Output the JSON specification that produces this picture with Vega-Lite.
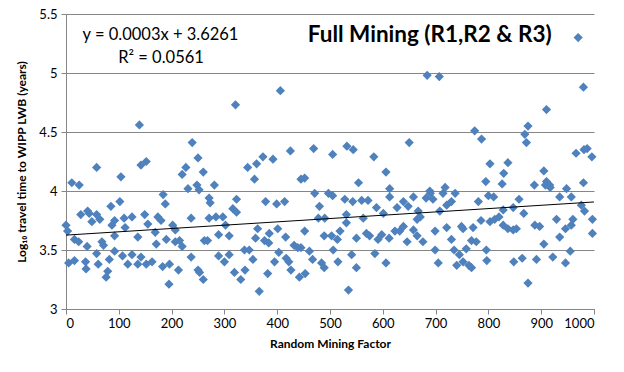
{
  "$schema": "https://vega.github.io/schema/vega-lite/v6.json",
  "autosize": "none",
  "width": 528,
  "height": 295,
  "padding": {"left": 66, "top": 14, "right": 30, "bottom": 63},
  "background": "white",
  "config": {
    "view": {"stroke": null},
    "font": "Lato",
    "axis": {"labelFont": "Lato", "titleFont": "Lato", "labelColor": "#000000", "titleColor": "#000000", "domainColor": "#868686", "tickColor": "#868686", "gridColor": "#868686", "labelFontSize": 13, "titleFontSize": 12}
  },
  "datasets": {
    "pts": [
      {"x":0,"y":3.71},{"x":3,"y":3.66},{"x":5,"y":3.39},{"x":11,"y":4.07},{"x":16,"y":3.59},{"x":16,"y":3.41},{"x":25,"y":4.05},{"x":24,"y":3.57},{"x":28,"y":3.80},{"x":37,"y":3.40},
      {"x":38,"y":3.34},{"x":40,"y":3.53},{"x":41,"y":3.83},{"x":44,"y":3.81},{"x":49,"y":3.74},{"x":58,"y":4.20},{"x":58,"y":3.80},{"x":58,"y":3.47},{"x":61,"y":3.38},{"x":64,"y":3.76},
      {"x":68,"y":3.57},{"x":71,"y":3.54},{"x":76,"y":3.27},{"x":79,"y":3.32},{"x":82,"y":3.42},{"x":85,"y":3.87},{"x":87,"y":3.71},{"x":92,"y":3.62},{"x":92,"y":3.49},{"x":92,"y":3.75},
      {"x":102,"y":3.91},{"x":104,"y":4.12},{"x":107,"y":3.45},{"x":110,"y":3.77},{"x":112,"y":3.69},{"x":117,"y":3.38},{"x":125,"y":3.78},{"x":125,"y":3.46},{"x":136,"y":3.38},{"x":136,"y":3.61},
      {"x":139,"y":4.56},{"x":142,"y":4.22},{"x":152,"y":4.25},{"x":142,"y":3.44},{"x":149,"y":3.80},{"x":155,"y":3.72},{"x":152,"y":3.38},{"x":163,"y":3.40},{"x":169,"y":3.65},{"x":171,"y":3.55},
      {"x":174,"y":3.78},{"x":180,"y":3.75},{"x":183,"y":3.36},{"x":184,"y":3.97},{"x":188,"y":3.89},{"x":190,"y":3.59},{"x":196,"y":3.38},{"x":195,"y":3.21},{"x":202,"y":3.71},{"x":207,"y":3.67},
      {"x":207,"y":3.57},{"x":213,"y":3.33},{"x":215,"y":3.58},{"x":220,"y":3.53},{"x":220,"y":4.14},{"x":227,"y":4.20},{"x":231,"y":4.02},{"x":237,"y":3.77},{"x":237,"y":3.44},{"x":239,"y":4.41},
      {"x":248,"y":4.05},{"x":250,"y":4.28},{"x":252,"y":4.01},{"x":250,"y":3.33},{"x":253,"y":3.31},{"x":260,"y":4.16},{"x":260,"y":3.25},{"x":262,"y":3.58},{"x":268,"y":3.58},{"x":271,"y":3.94},
      {"x":273,"y":3.90},{"x":271,"y":3.77},{"x":281,"y":4.05},{"x":284,"y":3.78},{"x":289,"y":3.63},{"x":289,"y":3.45},{"x":297,"y":3.78},{"x":302,"y":3.71},{"x":300,"y":3.40},{"x":309,"y":3.46},
      {"x":309,"y":3.62},{"x":316,"y":3.85},{"x":319,"y":3.31},{"x":321,"y":4.73},{"x":323,"y":3.82},{"x":323,"y":3.93},{"x":331,"y":3.25},{"x":338,"y":3.50},{"x":339,"y":3.33},{"x":344,"y":4.20},
      {"x":347,"y":3.50},{"x":354,"y":3.42},{"x":357,"y":4.10},{"x":359,"y":3.60},{"x":361,"y":4.23},{"x":363,"y":3.68},{"x":366,"y":3.15},{"x":373,"y":4.29},{"x":376,"y":3.58},{"x":378,"y":3.91},
      {"x":382,"y":3.30},{"x":384,"y":3.56},{"x":385,"y":3.64},{"x":392,"y":4.27},{"x":395,"y":3.40},{"x":399,"y":3.89},{"x":401,"y":3.68},{"x":403,"y":3.48},{"x":406,"y":4.85},{"x":414,"y":3.91},
      {"x":416,"y":3.61},{"x":417,"y":3.43},{"x":422,"y":3.40},{"x":425,"y":4.34},{"x":426,"y":3.33},{"x":432,"y":3.54},{"x":439,"y":3.52},{"x":442,"y":3.27},{"x":445,"y":3.52},{"x":445,"y":4.10},
      {"x":452,"y":4.11},{"x":452,"y":3.66},{"x":453,"y":3.30},{"x":461,"y":3.49},{"x":467,"y":3.42},{"x":471,"y":3.98},{"x":469,"y":4.36},
      {"x":970,"y":5.30},{"x":684,"y":4.98},{"x":707,"y":4.97},{"x":980,"y":4.88},{"x":910,"y":4.69},{"x":774,"y":4.51},{"x":787,"y":4.44},{"x":869,"y":4.48},{"x":875,"y":4.55},{"x":872,"y":4.41},
      {"x":505,"y":4.31},{"x":532,"y":4.38},{"x":544,"y":4.35},{"x":583,"y":4.29},{"x":650,"y":4.41},{"x":606,"y":4.16},{"x":554,"y":4.07},{"x":803,"y":4.23},{"x":837,"y":4.24},{"x":829,"y":4.15},
      {"x":795,"y":4.08},{"x":826,"y":4.06},{"x":905,"y":4.17},{"x":910,"y":4.08},{"x":966,"y":4.32},{"x":981,"y":4.35},{"x":987,"y":4.36},{"x":996,"y":4.29},{"x":980,"y":4.07},{"x":887,"y":4.05},
      {"x":916,"y":4.05},{"x":948,"y":4.02},{"x":718,"y":4.03},{"x":689,"y":4.00},{"x":613,"y":4.02},
      {"x":497,"y":3.98},{"x":505,"y":3.96},{"x":528,"y":3.93},{"x":543,"y":3.91},{"x":560,"y":3.92},{"x":572,"y":3.92},{"x":588,"y":3.86},{"x":601,"y":3.81},{"x":613,"y":3.95},{"x":627,"y":3.86},
      {"x":639,"y":3.91},{"x":648,"y":3.87},{"x":658,"y":3.95},{"x":667,"y":3.83},{"x":665,"y":3.76},{"x":682,"y":3.94},{"x":690,"y":3.98},{"x":695,"y":3.93},{"x":708,"y":3.83},{"x":714,"y":3.98},
      {"x":721,"y":3.88},{"x":730,"y":3.91},{"x":737,"y":3.98},{"x":781,"y":3.91},{"x":800,"y":3.96},{"x":810,"y":3.95},{"x":803,"y":3.74},{"x":812,"y":3.76},{"x":820,"y":3.78},{"x":828,"y":3.84},
      {"x":847,"y":3.86},{"x":858,"y":3.93},{"x":867,"y":3.81},{"x":908,"y":4.05},{"x":917,"y":4.03},{"x":929,"y":3.76},{"x":935,"y":3.95},{"x":957,"y":3.95},{"x":982,"y":3.83},{"x":976,"y":3.88},
      {"x":997,"y":3.76},{"x":997,"y":3.64},{"x":531,"y":3.80},{"x":531,"y":3.73},{"x":519,"y":3.66},{"x":514,"y":3.59},{"x":503,"y":3.62},{"x":489,"y":3.62},{"x":478,"y":3.77},{"x":480,"y":3.87},
      {"x":490,"y":3.77},{"x":550,"y":3.60},{"x":563,"y":3.77},{"x":569,"y":3.64},{"x":575,"y":3.62},{"x":591,"y":3.59},{"x":598,"y":3.63},{"x":612,"y":3.60},{"x":623,"y":3.66},{"x":632,"y":3.66},
      {"x":639,"y":3.70},{"x":646,"y":3.57},{"x":658,"y":3.67},{"x":665,"y":3.62},{"x":676,"y":3.57},{"x":671,"y":3.78},{"x":699,"y":3.66},{"x":721,"y":3.69},{"x":730,"y":3.59},{"x":749,"y":3.70},
      {"x":752,"y":3.68},{"x":771,"y":3.69},{"x":768,"y":3.58},{"x":777,"y":3.57},{"x":786,"y":3.75},{"x":828,"y":3.71},{"x":837,"y":3.68},{"x":853,"y":3.68},{"x":847,"y":3.67},{"x":888,"y":3.71},
      {"x":897,"y":3.70},{"x":905,"y":3.55},{"x":935,"y":3.61},{"x":946,"y":3.68},{"x":957,"y":3.71},{"x":960,"y":3.76},{"x":484,"y":3.39},{"x":489,"y":3.35},{"x":506,"y":3.50},{"x":515,"y":3.40},
      {"x":541,"y":3.46},{"x":550,"y":3.35},{"x":535,"y":3.16},{"x":585,"y":3.47},{"x":606,"y":3.39},{"x":699,"y":3.50},{"x":705,"y":3.39},{"x":735,"y":3.50},{"x":745,"y":3.46},{"x":740,"y":3.37},
      {"x":752,"y":3.40},{"x":758,"y":3.51},{"x":763,"y":3.37},{"x":768,"y":3.35},{"x":796,"y":3.50},{"x":797,"y":3.41},{"x":848,"y":3.40},{"x":864,"y":3.43},{"x":875,"y":3.22},{"x":891,"y":3.42},
      {"x":922,"y":3.44},{"x":946,"y":3.39},{"x":955,"y":3.49}
    ],
    "trend": [{"x":0,"y":3.6261},{"x":1000,"y":3.907}]
  },
  "layer": [
    {
      "data": {"name": "pts"},
      "mark": {"type": "point", "shape": "diamond", "filled": true, "size": 85, "color": "#4F81BD", "opacity": 1},
      "encoding": {
        "x": {"field": "x", "type": "quantitative", "scale": {"domain": [0, 1000], "nice": false},
          "axis": {"title": "Random Mining Factor", "titleFontWeight": "bold", "titlePadding": 8, "grid": false,
            "values": [0,50,100,150,200,250,300,350,400,450,500,550,600,650,700,750,800,850,900,950,1000],
            "labelExpr": "datum.value % 100 == 0 ? datum.label : ''", "tickSize": 5, "labelPadding": 3, "format": "d"}},
        "y": {"field": "y", "type": "quantitative", "scale": {"domain": [3, 5.5], "nice": false, "zero": false},
          "axis": {"title": "Log₁₀ travel time to WIPP LWB (years)", "titleFontWeight": "bold", "titlePadding": 10,
            "values": [3, 3.5, 4, 4.5, 5, 5.5], "tickSize": 5, "labelPadding": 4, "format": "~g"}}
      }
    },
    {
      "data": {"name": "trend"},
      "mark": {"type": "line", "color": "#000000", "strokeWidth": 1},
      "encoding": {
        "x": {"field": "x", "type": "quantitative"},
        "y": {"field": "y", "type": "quantitative"}
      }
    },
    {
      "data": {"values": [{"t": "Full Mining (R1,R2 & R3)"}]},
      "mark": {"type": "text", "font": "Lato", "fontWeight": "bold", "fontSize": 22.5, "align": "center", "baseline": "middle", "color": "#000000"},
      "encoding": {"text": {"field": "t"}, "x": {"datum": 689}, "y": {"datum": 5.32}}
    },
    {
      "data": {"values": [{"t": "y = 0.0003x + 3.6261"}]},
      "mark": {"type": "text", "font": "Lato", "fontSize": 16.5, "align": "center", "baseline": "middle", "color": "#000000"},
      "encoding": {"text": {"field": "t"}, "x": {"datum": 179}, "y": {"datum": 5.32}}
    },
    {
      "data": {"values": [{"t": "R² = 0.0561"}]},
      "mark": {"type": "text", "font": "Lato", "fontSize": 16.5, "align": "center", "baseline": "middle", "color": "#000000"},
      "encoding": {"text": {"field": "t"}, "x": {"datum": 180}, "y": {"datum": 5.125}}
    }
  ]
}
